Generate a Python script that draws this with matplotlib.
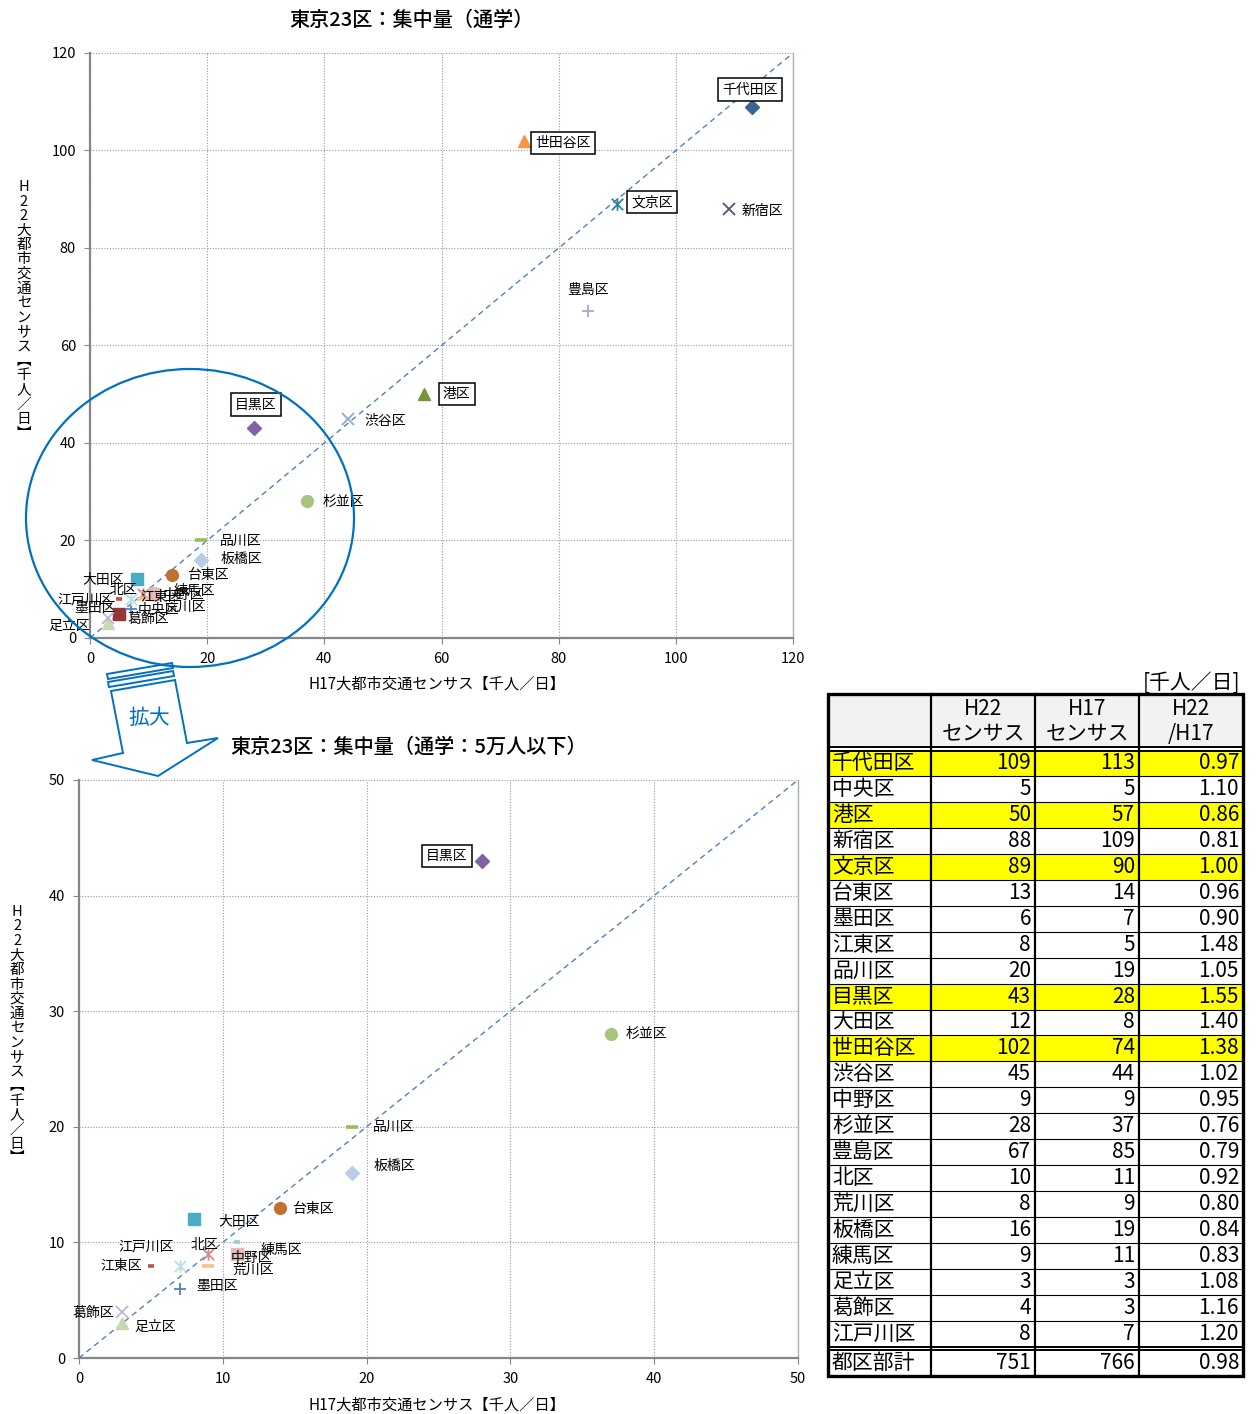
import matplotlib
matplotlib.use('Agg')
import matplotlib.pyplot as plt
from matplotlib.patches import Ellipse, Polygon, Rectangle
from matplotlib.path import Path

plt.rcParams['font.family'] = ['Noto Sans CJK JP', 'DejaVu Sans']

# 東京23区 通学集中量 [千人/日]
wards = ['千代田区', '中央区', '港区', '新宿区', '文京区', '台東区', '墨田区', '江東区',
         '品川区', '目黒区', '大田区', '世田谷区', '渋谷区', '中野区', '杉並区', '豊島区',
         '北区', '荒川区', '板橋区', '練馬区', '足立区', '葛飾区', '江戸川区']
h22 = [109, 5, 50, 88, 89, 13, 6, 8, 20, 43, 12, 102, 45, 9, 28, 67, 10, 8, 16, 9, 3, 4, 8]
h17 = [113, 5, 57, 109, 90, 14, 7, 5, 19, 28, 8, 74, 44, 9, 37, 85, 11, 9, 19, 11, 3, 3, 7]
ratio = [0.97, 1.10, 0.86, 0.81, 1.00, 0.96, 0.90, 1.48, 1.05, 1.55, 1.40, 1.38,
         1.02, 0.95, 0.76, 0.79, 0.92, 0.80, 0.84, 0.83, 1.08, 1.16, 1.20]
total_name = '都区部計'
total_vals = [751, 766, 0.98]
highlight = ['千代田区', '港区', '文京区', '目黒区', '世田谷区']

xlabel = 'H17大都市交通センサス【千人／日】'
ylabel_chars = ['H', '2', '2', '大', '都', '市', '交', '通', 'セ', 'ン', 'サ', 'ス',
                '︻', '千', '人', '／', '日', '︼']

# asterisk marker (x + vertical bar)
AST = Path([(-1, -1), (1, 1), (-1, 1), (1, -1), (0, -1.1), (0, 1.1)],
           [Path.MOVETO, Path.LINETO] * 3)

# marker, colour, size, edge width  (series order = wards order)
styles = [
    ('D', '#3A6496', 7, 1), ('s', '#963634', 8, 1), ('^', '#77933C', 9, 1),
    ('x', '#604A7B', 8.5, 1.3), (AST, '#31859C', 9, 1.3), ('o', '#C0702F', 8.5, 1),
    ('+', '#4F81BD', 9, 1.3), ('_', '#C0504D', 5, 2.6), ('_', '#9BBB59', 8.5, 2.6),
    ('D', '#8064A2', 7, 1), ('s', '#4BACC6', 8, 1), ('^', '#F79646', 9, 1),
    ('x', '#8EA9DB', 8.5, 1.3), (AST, '#D98A89', 9, 1.3), ('o', '#A9C47F', 8.5, 1),
    ('+', '#B3A2C7', 9, 1.3), ('_', '#93CDDD', 5, 2.6), ('_', '#FAC090', 8.5, 2.6),
    ('D', '#B9CDE5', 7, 1), ('s', '#E6B9B8', 8, 1), ('^', '#C9D9AE', 9, 1),
    ('x', '#C0B3D4', 8.5, 1.3), (AST, '#B7DEE8', 9, 1.3),
]

# label placement: offset in pixels from marker (dx, dy up), alignment, boxed
top_labels = {
    '千代田区': (-2, 17, 'center', True), '中央区': (18, 4, 'left', False),
    '港区': (19, 0, 'left', True), '新宿区': (13, -2, 'left', False),
    '文京区': (14, 2, 'left', True), '台東区': (15, 0, 'left', False),
    '墨田区': (-15, 1, 'right', False), '江東区': (21, 2, 'left', False),
    '品川区': (19, 0, 'left', False), '目黒区': (2, 24, 'center', True),
    '大田区': (-13, -1, 'right', False), '世田谷区': (12, -2, 'left', True),
    '渋谷区': (17, -2, 'left', False), '中野区': (20, -1, 'left', False),
    '杉並区': (16, 0, 'left', False), '豊島区': (0, 21, 'center', False),
    '北区': (-17, -1, 'right', False), '荒川区': (22, -8, 'left', False),
    '板橋区': (19, 1, 'left', False), '練馬区': (19, 3, 'left', False),
    '足立区': (-18, -2, 'right', False), '葛飾区': (20, 0, 'left', False),
    '江戸川区': (-18, -1, 'right', False),
}
bottom_labels = {
    '目黒区': (-35, 5, 'center', True), '杉並区': (15, 0, 'left', False),
    '品川区': (21, 0, 'left', False), '板橋区': (21, 7, 'left', False),
    '台東区': (12, -1, 'left', False), '大田区': (24, -3, 'left', False),
    '江戸川区': (-6, 19, 'right', False), '北区': (-19, -3, 'right', False),
    '練馬区': (23, 4, 'left', False), '中野区': (22, -4, 'left', False),
    '荒川区': (24, -4, 'left', False), '江東区': (-9, 0, 'right', False),
    '墨田区': (17, 3, 'left', False), '葛飾区': (-8, -1, 'right', False),
    '足立区': (12, -4, 'left', False),
}

W, H = 1256, 1414
fig = plt.figure(figsize=(W / 100, H / 100), dpi=100)


def px_axes(l, t, r, b):
    return fig.add_axes([l / W, 1 - b / H, (r - l) / W, (b - t) / H])


def scatter_chart(ax, lim, step, labels):
    ax.set_xlim(0, lim)
    ax.set_ylim(0, lim)
    ticks = list(range(0, lim + 1, step))
    ax.set_xticks(ticks)
    ax.set_yticks(ticks)
    ax.tick_params(labelsize=10.5, length=4, color='#868686', pad=6)
    ax.grid(True, color='#9a9a9a', linestyle=(0, (1, 1.5)), linewidth=0.8)
    ax.set_axisbelow(True)
    for s in ['left', 'bottom']:
        ax.spines[s].set_color('#868686')
        ax.spines[s].set_linewidth(1.6)
    ax.spines['top'].set_visible(False)
    ax.spines['right'].set_color('#b0b0b0')
    ax.spines['right'].set_linewidth(1.0)
    ax.plot([0, lim], [0, lim], color='#4F81BD', lw=1.0, dashes=(4, 3), zorder=2)
    for i, name in enumerate(wards):
        if name not in labels:
            continue
        m, c, ms, mew = styles[i]
        filled = m in ('D', 's', '^', 'o')
        ax.plot(h17[i], h22[i], linestyle='none', marker=m, ms=ms, mew=mew,
                mfc=c if filled else 'none', mec=c, zorder=4, clip_on=False)
        dx, dy, ha, boxed = labels[name]
        bbox = dict(boxstyle='square,pad=0.3', fc='white', ec='black', lw=1.1) if boxed else None
        ax.annotate(name, (h17[i], h22[i]), xytext=(dx, dy), textcoords='offset pixels',
                    ha=ha, va='center', fontsize=10, bbox=bbox, zorder=5)


ax1 = px_axes(90, 53, 793, 638)
scatter_chart(ax1, 120, 20, top_labels)
ax2 = px_axes(79, 780, 798, 1358)
scatter_chart(ax2, 50, 10, bottom_labels)

# overlay in pixel coordinates: titles, axis labels, zoom circle, arrow, table
ov = fig.add_axes([0, 0, 1, 1], zorder=10)
ov.set_xlim(0, W)
ov.set_ylim(H, 0)
ov.axis('off')
ov.patch.set_alpha(0)

ov.text(411, 20, '東京23区：集中量（通学）', ha='center', va='center', fontsize=14.5, weight='medium')
ov.text(409, 747, '東京23区：集中量（通学：5万人以下）', ha='center', va='center', fontsize=14.5, weight='medium')
ov.text(437, 684, xlabel, ha='center', va='center', fontsize=11)
ov.text(437, 1405, xlabel, ha='center', va='center', fontsize=11)
for x0, y0 in [(24, 187), (17, 912)]:
    for k, ch in enumerate(ylabel_chars):
        ov.text(x0, y0 + k * 14.5, ch, ha='center', va='center', fontsize=10.5)

blue = '#0070C0'
ov.add_patch(Ellipse((190, 518), 328, 298, fill=False, ec=blue, lw=1.6))
ov.add_patch(Polygon([(107, 674), (172, 663), (173, 668), (108, 679)], closed=True,
                     fill=False, ec=blue, lw=1.4))
ov.add_patch(Polygon([(108, 682), (173, 671), (174, 676), (109, 687)], closed=True,
                     fill=False, ec=blue, lw=1.4))
ov.add_patch(Polygon([(111, 691), (123, 753), (92, 760), (158, 776), (218, 738),
                      (187, 743), (175, 680)], closed=True, fc='white', ec=blue, lw=1.4))
ov.text(149, 718, '拡大', ha='center', va='center', fontsize=15, color=blue)

# table
cols = [828, 931, 1035, 1139, 1243]
head_top, head_bot = 694, 748
row_top, row_h = 750, 25.95
row_bot = row_top + row_h * len(wards)
tot_top, tot_bot = row_bot + 3, 1376
tfs = 15

ov.text(1240, 683, '[千人／日]', ha='right', va='center', fontsize=tfs)
ov.add_patch(Rectangle((cols[0], head_top), cols[-1] - cols[0], head_bot - head_top,
                       fc='#F2F2F2', ec='none'))
headers = [('H22', 'センサス'), ('H17', 'センサス'), ('H22', '/H17')]
for j, (a, b) in enumerate(headers):
    cx = (cols[j + 1] + cols[j + 2]) / 2
    ov.text(cx, 709, a, ha='center', va='center', fontsize=tfs)
    ov.text(cx, 734, b, ha='center', va='center', fontsize=tfs)

for i, name in enumerate(wards):
    y0 = row_top + i * row_h
    yc = y0 + row_h / 2
    if name in highlight:
        ov.add_patch(Rectangle((cols[0], y0), cols[-1] - cols[0], row_h, fc='#FFFF00', ec='none'))
    ov.text(cols[0] + 4, yc, name, ha='left', va='center', fontsize=tfs)
    ov.text(cols[2] - 4, yc, str(h22[i]), ha='right', va='center', fontsize=tfs)
    ov.text(cols[3] - 4, yc, str(h17[i]), ha='right', va='center', fontsize=tfs)
    ov.text(cols[4] - 4, yc, f'{ratio[i]:.2f}', ha='right', va='center', fontsize=tfs)
    if i > 0:
        ov.plot([cols[0], cols[-1]], [y0, y0], color='black', lw=0.8)

tc = (tot_top + tot_bot) / 2
ov.text(cols[0] + 4, tc, total_name, ha='left', va='center', fontsize=tfs)
ov.text(cols[2] - 4, tc, str(total_vals[0]), ha='right', va='center', fontsize=tfs)
ov.text(cols[3] - 4, tc, str(total_vals[1]), ha='right', va='center', fontsize=tfs)
ov.text(cols[4] - 4, tc, f'{total_vals[2]:.2f}', ha='right', va='center', fontsize=tfs)

# double rules under header and above total
for y in (head_bot - 1, row_top + 1, row_bot, tot_top):
    ov.plot([cols[0], cols[-1]], [y, y], color='black', lw=1.4)
for x in cols[1:-1]:
    ov.plot([x, x], [head_top, tot_bot], color='black', lw=1.6)
ov.add_patch(Rectangle((cols[0], head_top), cols[-1] - cols[0], tot_bot - head_top,
                       fill=False, ec='black', lw=2.4))

fig.savefig('out.png', dpi=100)
